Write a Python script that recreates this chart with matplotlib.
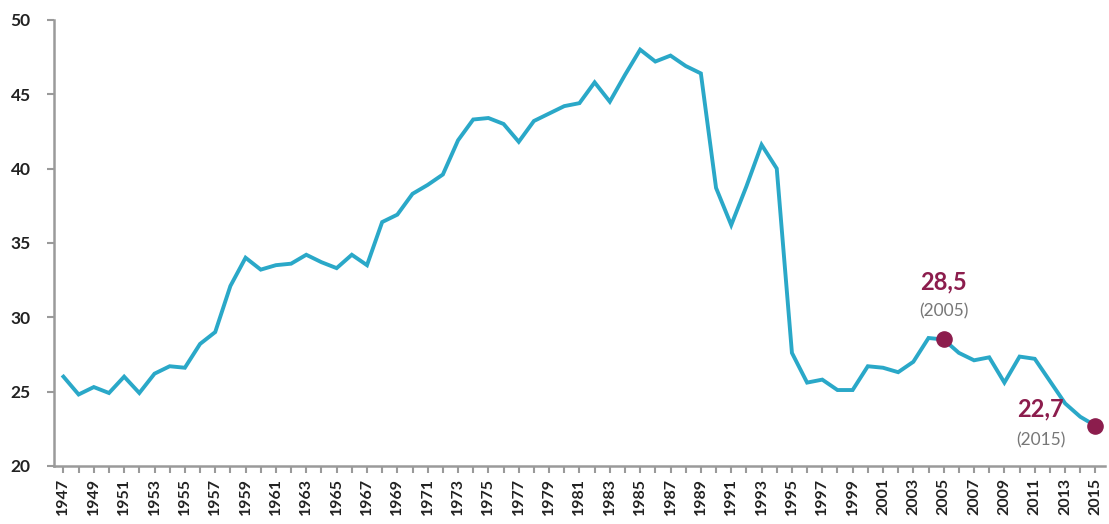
import numpy as np
import matplotlib
matplotlib.use("Agg")
import matplotlib.pyplot as plt

# Datos
years = list(range(1947, 2016))
values = [26.0, 24.8, 25.3, 24.9, 26.0, 24.9, 26.2, 26.7, 26.6, 28.2,
          29.0, 32.1, 34.0, 33.2, 33.5, 33.6, 34.2, 33.7, 33.3, 34.2,
          33.5, 36.4, 36.9, 38.3, 38.9, 39.6, 41.9, 43.3, 43.4, 43.0,
          41.8, 43.2, 43.7, 44.2, 44.4, 45.8, 44.5, 46.3, 48.0, 47.2,
          47.6, 46.9, 46.4, 38.7, 36.2, 38.8, 41.6, 40.0, 27.6, 25.6,
          25.8, 25.1, 25.1, 26.7, 26.6, 26.3, 27.0, 28.6, 28.5, 27.6,
          27.1, 27.3, 25.6, 27.35, 27.2, 25.7, 24.2, 23.3, 22.7]
highlight_years = [2005, 2015]
highlight_values = [28.5, 22.7]
highlight_labels = ["28,5", "22,7"]
highlight_sub = ["(2005)", "(2015)"]
yticks = [20, 25, 30, 35, 40, 45, 50]

line_color = "#2aa8c8"
mark_color = "#8c1d4d"
axis_color = "#9a9a9a"

plt.rcParams['font.family'] = ['Lato', 'DejaVu Sans']

fig = plt.figure(figsize=(11.09, 5.24), dpi=100)
ax = fig.add_axes([0.049, 0.111, 0.947, 0.851])

ax.plot(years, values, color=line_color, lw=2.8, solid_joinstyle="miter", zorder=2)
ax.scatter(highlight_years, highlight_values, s=120, color=mark_color, zorder=3)

# Etiquetas de los puntos destacados
ax.text(highlight_years[0], highlight_values[0] + 3.9, highlight_labels[0],
        ha="center", va="center", fontsize=17, fontweight="bold", color=mark_color)
ax.text(highlight_years[0], highlight_values[0] + 1.9, highlight_sub[0],
        ha="center", va="center", fontsize=12.5, color="#777777")
ax.text(highlight_years[1] - 3.6, highlight_values[1] + 1.15, highlight_labels[1],
        ha="center", va="center", fontsize=17, fontweight="bold", color=mark_color)
ax.text(highlight_years[1] - 3.6, highlight_values[1] - 1.0, highlight_sub[1],
        ha="center", va="center", fontsize=12.5, color="#777777")

ax.set_xlim(1946.4, 2015.6)
ax.set_ylim(20, 50)
ax.set_yticks(yticks)
ax.set_yticklabels([str(t) for t in yticks], fontsize=12.5, fontweight="bold", color="#222222")
ax.set_xticks(years[::2])
ax.set_xticklabels([str(y) for y in years[::2]], rotation=90, fontsize=11.5,
                   fontweight="bold", color="#222222")
ax.set_xticks(years, minor=True)

for s in ["top", "right"]:
    ax.spines[s].set_visible(False)
for s in ["left", "bottom"]:
    ax.spines[s].set_color(axis_color)
    ax.spines[s].set_linewidth(1.8)
ax.tick_params(axis="both", which="both", color=axis_color, width=1.5, length=5)
ax.tick_params(axis="y", pad=12)
ax.tick_params(axis="x", pad=4)

fig.savefig("out.png", dpi=100)
